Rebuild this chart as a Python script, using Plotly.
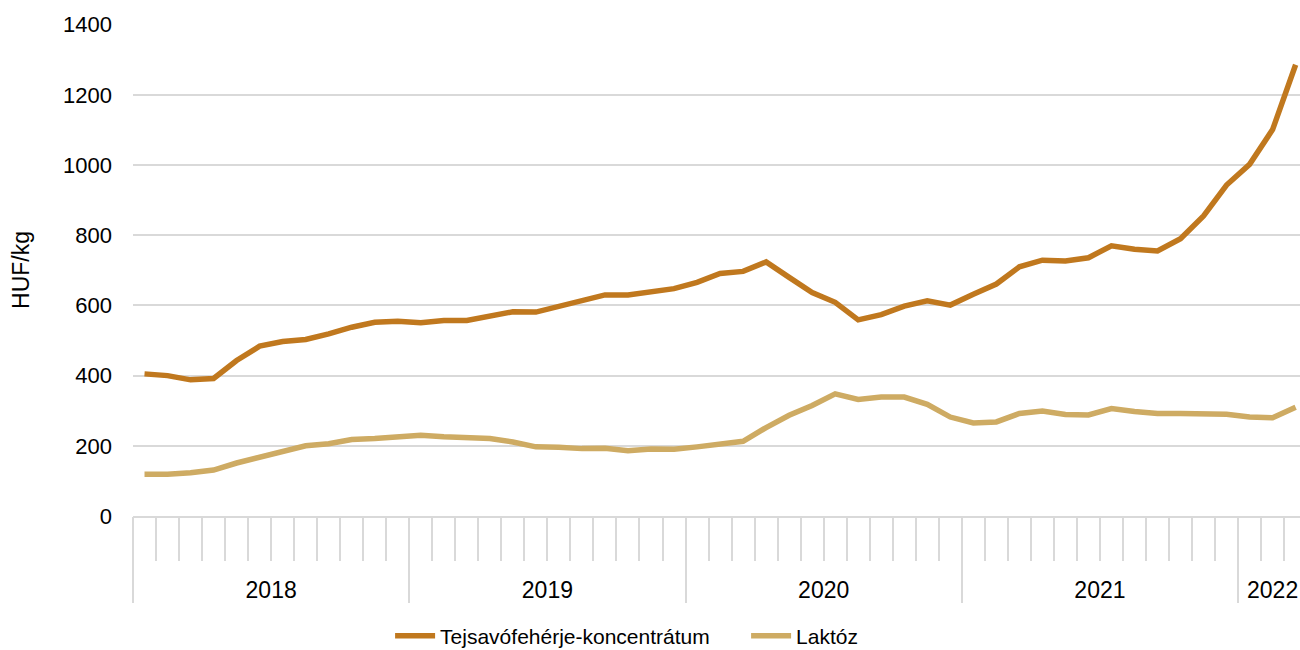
import plotly.graph_objects as go

years = ["2018", "2019", "2020", "2021", "2022"]
months_per_year = [12, 12, 12, 12, 3]

tejsavo = [405, 400, 388, 392, 443, 484, 497, 503, 519,
           538, 552, 555, 551, 557, 557, 571, 582,
           581, 596, 613, 630, 630, 640, 648, 666,
           691, 697, 724, 680, 637, 609, 559, 574,
           598, 613, 601, 632, 661, 710, 729, 727,
           736, 770, 760, 755, 790, 855, 943, 1002, 1101, 1286]
laktoz = [119, 119, 123, 131, 151, 168, 187, 200, 206,
          218, 221, 225, 230, 226, 225, 221, 211,
          197, 196, 192, 193, 186, 191, 190, 197,
          206, 213, 252, 287, 315, 348, 332, 339,
          339, 318, 282, 265, 268, 292, 299, 289,
          288, 306, 298, 292, 292, 292, 290, 282, 280, 310]

series_names = ["Tejsavófehérje-koncentrátum", "Laktóz"]
colors = ["#C0781E", "#CEAB63"]

n = len(tejsavo)
x = list(range(n))

# axis helper positions derived from category structure
month_bounds = [i - 0.5 for i in range(n + 1)]
year_bounds = [-0.5]
year_centers = []
acc = 0
for m in months_per_year:
    year_centers.append(acc - 0.5 + m / 2)
    acc += m
    year_bounds.append(acc - 0.5)

FONT = "Liberation Sans, Arial, sans-serif"
GRID = "#d9d9d9"
xrange = [-0.5, 50.19]

fig = go.Figure()
for name, vals, col in zip(series_names, [tejsavo, laktoz], colors):
    fig.add_trace(go.Scatter(x=x, y=vals, mode="lines", name=name,
                             line=dict(color=col, width=5.5)))
# invisible helper traces so the overlay axes (year dividers / labels) are drawn
for ax in ["x2", "x3"]:
    fig.add_trace(go.Scatter(x=[None], y=[None], xaxis=ax, yaxis="y", mode="lines",
                             showlegend=False, hoverinfo="skip"))

fig.update_layout(
    width=1300, height=650,
    margin=dict(l=133, r=0, t=24, b=133.5, autoexpand=False),
    paper_bgcolor="white", plot_bgcolor="white",
    font=dict(family=FONT, size=21, color="#000000"),
    showlegend=True,
    legend=dict(orientation="h", x=0.2203, xanchor="left", y=0.0215, yanchor="middle",
                yref="container", font=dict(size=21), itemwidth=40, tracegroupgap=0,
                entrywidth=301, entrywidthmode="pixels"),
    yaxis=dict(range=[0, 1402], dtick=200, tick0=0, showgrid=True, gridcolor=GRID,
               gridwidth=1.5, zeroline=False, ticks="", ticklabelstandoff=20,
               automargin=False, tickfont=dict(size=22),
               title=dict(text="HUF/kg", font=dict(size=23), standoff=26)),
    xaxis=dict(range=xrange, tickmode="array", tickvals=month_bounds, ticks="outside",
               ticklen=43, tickcolor=GRID, tickwidth=1.5, showticklabels=False,
               automargin=False,
               showgrid=False, zeroline=False, showline=True, linecolor=GRID, linewidth=2),
    xaxis2=dict(range=xrange, overlaying="x", anchor="y", side="bottom", tickmode="array",
                tickvals=year_bounds, ticks="outside", ticklen=86, tickcolor=GRID,
                tickwidth=1.5, showticklabels=False, showgrid=False, zeroline=False,
                showline=False, automargin=False),
    xaxis3=dict(range=xrange, overlaying="x", anchor="y", side="bottom", tickmode="array",
                tickvals=year_centers, ticktext=years, ticks="outside", ticklen=53,
                tickcolor="rgba(0,0,0,0)", showgrid=False, zeroline=False, showline=False,
                automargin=False, tickfont=dict(size=23)),
)

fig.write_html(
    "out.html",
    config={"displayModeBar": False},
    post_script="document.body.style.margin='0';"
                "document.documentElement.style.overflow='hidden';",
)
